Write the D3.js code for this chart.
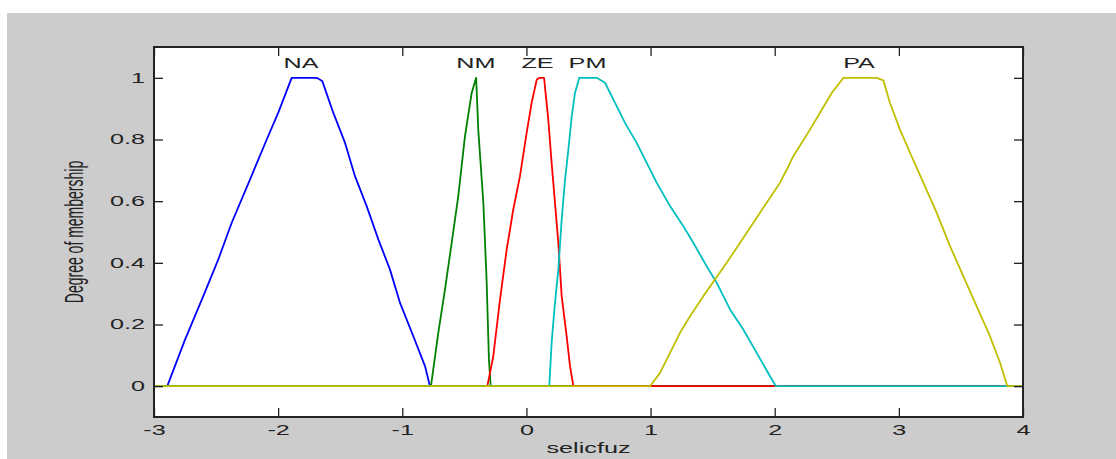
<!DOCTYPE html>
<html><head><meta charset="utf-8">
<script src="https://cdn.jsdelivr.net/npm/d3@7"></script>
<style>html,body{margin:0;padding:0;background:#fff;}svg{display:block;}text{font-family:"Liberation Sans",Arial,sans-serif;}</style>
</head><body>
<svg id="c" width="1116" height="459"></svg>
<script>
const xTicks = [-3,-2,-1,0,1,2,3,4];
const xTickLabels = ["-3","-2","-1","0","1","2","3","4"];
const yTicks = [0,0.2,0.4,0.6,0.8,1];
const yTickLabels = ["0","0.2","0.4","0.6","0.8","1"];
const mfNames = ["NA","NM","ZE","PM","PA"];
const mfLabelX = [-1.815,-0.407,0.089,0.492,2.679];
const mfColors = ["#0000ff","#008000","#ff0000","#00bfbf","#bfbf00"];
const NA = [[-3,0],[-2.893,0],[-2.75,0.151],[-2.603,0.292],[-2.482,0.411],[-2.374,0.53],[-2.227,0.67],[-2.092,0.8],[-1.999,0.887],[-1.891,1],[-1.689,1],[-1.645,0.99],[-1.556,0.887],[-1.461,0.789],[-1.381,0.681],[-1.287,0.584],[-1.193,0.476],[-1.099,0.378],[-1.018,0.27],[-0.911,0.162],[-0.817,0.065],[-0.777,0],[4,0]];
const NM = [[-3,0],[-0.769,0],[-0.71,0.173],[-0.656,0.314],[-0.602,0.465],[-0.549,0.616],[-0.495,0.811],[-0.441,0.951],[-0.405,1],[-0.388,0.832],[-0.347,0.595],[-0.321,0.346],[-0.302,0.087],[-0.288,0],[4,0]];
const ZE = [[-3,0],[-0.315,0],[-0.267,0.097],[-0.213,0.281],[-0.159,0.443],[-0.106,0.573],[-0.052,0.681],[0.002,0.822],[0.042,0.919],[0.083,0.994],[0.104,1],[0.142,1],[0.176,0.865],[0.203,0.724],[0.23,0.595],[0.257,0.465],[0.284,0.292],[0.324,0.162],[0.351,0.065],[0.378,0],[4,0]];
const PM = [[-3,0],[0.184,0],[0.203,0.141],[0.23,0.27],[0.257,0.378],[0.284,0.541],[0.311,0.67],[0.338,0.768],[0.365,0.875],[0.391,0.951],[0.426,1],[0.566,1],[0.633,0.984],[0.714,0.919],[0.794,0.854],[0.888,0.789],[0.969,0.724],[1.049,0.66],[1.157,0.584],[1.264,0.519],[1.344,0.465],[1.452,0.389],[1.533,0.335],[1.64,0.249],[1.747,0.184],[1.855,0.108],[1.962,0.032],[2.01,0],[4,0]];
const PA = [[-3,0],[0.996,0],[1.076,0.043],[1.157,0.108],[1.237,0.173],[1.318,0.227],[1.425,0.292],[1.613,0.4],[1.721,0.465],[1.828,0.53],[1.935,0.595],[2.043,0.66],[2.118,0.719],[2.15,0.746],[2.284,0.832],[2.365,0.887],[2.459,0.951],[2.553,1],[2.821,1],[2.875,0.992],[2.928,0.919],[3.009,0.832],[3.09,0.757],[3.197,0.66],[3.305,0.562],[3.412,0.454],[3.519,0.357],[3.627,0.259],[3.734,0.162],[3.815,0.076],[3.874,0],[4,0]];
const mfData = [NA,NM,ZE,PM,PA];

const SX = 1.8; // horizontal stretch of text as in reference
const svg = d3.select("#c");
const L=154, R=1023, T=47, B=417;
const x = d3.scaleLinear().domain([-3,4]).range([L,R]);
const y = d3.scaleLinear().domain([-0.1,1.1]).range([B,T]);

svg.append("rect").attr("x",7).attr("y",13).attr("width",1109).attr("height",446).attr("fill","#cccccc");
svg.append("rect").attr("x",L).attr("y",T).attr("width",R-L).attr("height",B-T).attr("fill","#fff");

const line = d3.line().x(d=>x(d[0])).y(d=>y(d[1]));
const plot = svg.append("g");
mfData.forEach((d,i)=>{
  plot.append("path").datum(d).attr("d",line).attr("fill","none")
    .attr("stroke",mfColors[i]).attr("stroke-width",1.8).attr("stroke-linejoin","round");
});

// MF labels
mfNames.forEach((n,i)=>{
  svg.append("text").attr("transform",`translate(${x(mfLabelX[i])},${y(1)-10}) scale(${SX},1)`)
    .attr("text-anchor","middle").attr("font-size",14).attr("fill","#222").text(n);
});

const col="#222";
// axes
const gl = svg.append("g").attr("transform",`translate(${L},0)`)
  .call(d3.axisLeft(y).tickValues(yTicks).tickFormat((d,i)=>yTickLabels[i]).tickSizeInner(-9).tickSizeOuter(0).tickPadding(9));
gl.selectAll("text").attr("x",-9/SX).attr("transform",`scale(${SX},1)`).attr("font-size",14).attr("fill",col).attr("font-family","Liberation Sans, Arial, sans-serif");
const gr = svg.append("g").attr("transform",`translate(${R},0)`)
  .call(d3.axisRight(y).tickValues(yTicks).tickFormat("").tickSizeInner(-9).tickSizeOuter(0));
const gb = svg.append("g").attr("transform",`translate(0,${B})`)
  .call(d3.axisBottom(x).tickValues(xTicks).tickFormat((d,i)=>xTickLabels[i]).tickSizeInner(-9).tickSizeOuter(0).tickPadding(8));
gb.selectAll("text").attr("transform",`scale(${SX},1)`).attr("font-size",14).attr("fill",col).attr("font-family","Liberation Sans, Arial, sans-serif");
const gt = svg.append("g").attr("transform",`translate(0,${T})`)
  .call(d3.axisTop(x).tickValues(xTicks).tickFormat("").tickSizeInner(-9).tickSizeOuter(0));
[gl,gr,gb,gt].forEach(g=>{g.select(".domain").remove();g.selectAll(".tick line").attr("stroke",col).attr("stroke-width",1.3);});

// box
svg.append("rect").attr("x",L).attr("y",T).attr("width",R-L).attr("height",B-T)
  .attr("fill","none").attr("stroke",col).attr("stroke-width",2);

// axis titles
svg.append("text").attr("transform",`translate(${(L+R)/2},453) scale(${SX},1)`)
  .attr("text-anchor","middle").attr("font-size",14).attr("fill",col).text("selicfuz");
svg.append("text").attr("transform",`translate(83,${(T+B)/2}) rotate(-90) scale(1,${SX})`)
  .attr("text-anchor","middle").attr("font-size",14).attr("fill",col).text("Degree of membership");
</script>
</body></html>
